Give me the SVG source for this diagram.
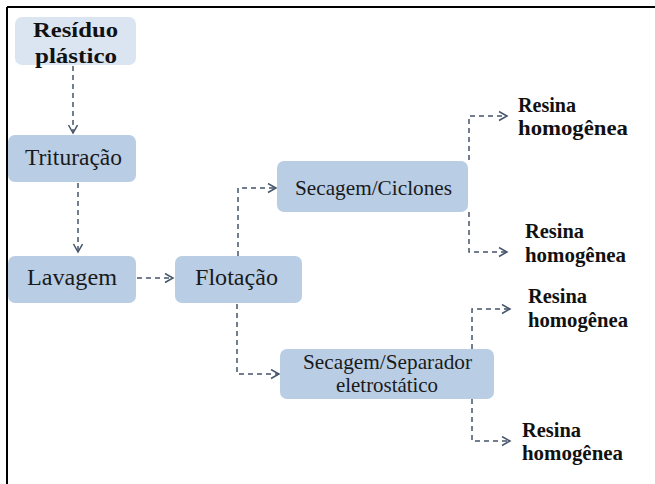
<svg xmlns="http://www.w3.org/2000/svg" width="655" height="484" viewBox="0 0 655 484">
<defs>
<style>
.box{fill:#b9cde5;}
.box0{fill:#dbe5f1;}
text{fill:#1a1a1a;}
.t{font-size:23px;text-anchor:middle;}
.ts{font-size:21px;text-anchor:middle;}
.b{font-size:21px;font-weight:bold;fill:#111;}
.c{fill:none;stroke:#44546a;stroke-width:1.5;stroke-dasharray:5,4;}
</style>
<marker id="ah" markerWidth="12" markerHeight="12" refX="9" refY="5" orient="auto" markerUnits="userSpaceOnUse">
<path d="M1,0.5 L9,5 L1,9.5" fill="none" stroke="#44546a" stroke-width="1.5"/>
</marker>
</defs>
<rect width="655" height="484" fill="#fff"/>
<g id="frame">
<line x1="7" y1="7" x2="655" y2="7" stroke="#000" stroke-width="2"/>
<line x1="7" y1="7" x2="7" y2="484" stroke="#000" stroke-width="2"/>
</g>
<g id="connectors">
<path class="c" d="M73,66 V133" marker-end="url(#ah)"/>
<path class="c" d="M78,183 V252" marker-end="url(#ah)"/>
<path class="c" d="M137,278 H173" marker-end="url(#ah)"/>
<path class="c" d="M238,256 V188 H276" marker-end="url(#ah)"/>
<path class="c" d="M237,304 V374 H279" marker-end="url(#ah)"/>
<path class="c" d="M469,160 V116 H507" marker-end="url(#ah)"/>
<path class="c" d="M469,212 V252 H507" marker-end="url(#ah)"/>
<path class="c" d="M472,349 V309 H510" marker-end="url(#ah)"/>
<path class="c" d="M472,399 V441 H510" marker-end="url(#ah)"/>
</g>
<g id="nodes" font-family="Liberation Serif, Times New Roman, serif">
<g id="residuo">
<rect class="box0" x="15" y="17" width="121" height="48" rx="7"/>
<text class="b" x="75.5" y="37" text-anchor="middle" textLength="85" lengthAdjust="spacingAndGlyphs">Resíduo</text>
<text class="b" x="76" y="63" text-anchor="middle" textLength="82" lengthAdjust="spacingAndGlyphs">plástico</text>
</g>
<g id="trituracao">
<rect class="box" x="8" y="135" width="128" height="47" rx="7"/>
<text class="t" x="73.5" y="165" textLength="97" lengthAdjust="spacingAndGlyphs">Trituração</text>
</g>
<g id="lavagem">
<rect class="box" x="8" y="256" width="128" height="47" rx="7"/>
<text class="t" x="72" y="285" textLength="90" lengthAdjust="spacingAndGlyphs">Lavagem</text>
</g>
<g id="flotacao">
<rect class="box" x="175" y="256" width="127" height="47" rx="7"/>
<text class="t" x="236.5" y="285" textLength="83" lengthAdjust="spacingAndGlyphs">Flotação</text>
</g>
<g id="ciclones">
<rect class="box" x="277" y="161" width="191" height="51" rx="7"/>
<text class="ts" x="373.5" y="195" textLength="157" lengthAdjust="spacingAndGlyphs">Secagem/Ciclones</text>
</g>
<g id="separador">
<rect class="box" x="280" y="349" width="214" height="50" rx="7"/>
<text class="ts" x="387.5" y="369" textLength="169" lengthAdjust="spacingAndGlyphs">Secagem/Separador</text>
<text class="ts" x="387" y="392" textLength="102" lengthAdjust="spacingAndGlyphs">eletrostático</text>
</g>
<g id="resina1">
<text class="b" x="518" y="112" textLength="58" lengthAdjust="spacingAndGlyphs">Resina</text>
<text class="b" x="518" y="135" textLength="110" lengthAdjust="spacingAndGlyphs">homogênea</text>
</g>
<g id="resina2">
<text class="b" x="525" y="238" textLength="59" lengthAdjust="spacingAndGlyphs">Resina</text>
<text class="b" x="525" y="262" textLength="101" lengthAdjust="spacingAndGlyphs">homogênea</text>
</g>
<g id="resina3">
<text class="b" x="528" y="303" textLength="59" lengthAdjust="spacingAndGlyphs">Resina</text>
<text class="b" x="528" y="327" textLength="100" lengthAdjust="spacingAndGlyphs">homogênea</text>
</g>
<g id="resina4">
<text class="b" x="522" y="437" textLength="59" lengthAdjust="spacingAndGlyphs">Resina</text>
<text class="b" x="522" y="460" textLength="101" lengthAdjust="spacingAndGlyphs">homogênea</text>
</g>
</g>
</svg>
